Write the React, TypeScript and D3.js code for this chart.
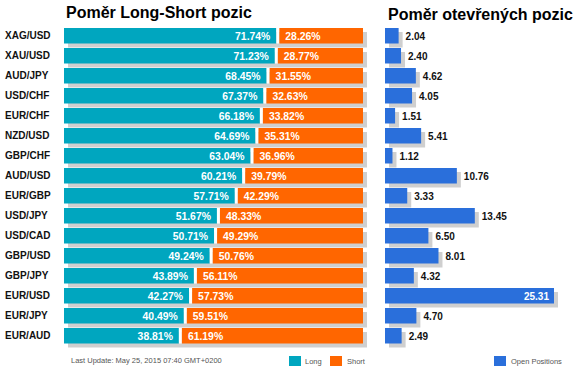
import React from "react";
import * as d3 from "d3";

const categories = ["XAG/USD","XAU/USD","AUD/JPY","USD/CHF","EUR/CHF","NZD/USD","GBP/CHF","AUD/USD","EUR/GBP","USD/JPY","USD/CAD","GBP/USD","GBP/JPY","EUR/USD","EUR/JPY","EUR/AUD"];
const longPct = [71.74,71.23,68.45,67.37,66.18,64.69,63.04,60.21,57.71,51.67,50.71,49.24,43.89,42.27,40.49,38.81];
const shortPct = [28.26,28.77,31.55,32.63,33.82,35.31,36.96,39.79,42.29,48.33,49.29,50.76,56.11,57.73,59.51,61.19];
const openPos = [2.04,2.40,4.62,4.05,1.51,5.41,1.12,10.76,3.33,13.45,6.50,8.01,4.32,25.31,4.70,2.49];

const TEAL = "#00A6BF";
const ORANGE = "#FF6600";
const BLUE = "#2A6FDB";
const SHADOW = "#CFCFCF";
const FONT = "'Liberation Sans', Arial, sans-serif";

export default function App() {
  const W = 584, H = 381;
  const y = d3.scaleBand<string>().domain(categories).range([28, 348]).paddingInner(0.225).paddingOuter(0.1125).align(0);
  const bh = y.bandwidth();
  const left0 = 64;
  const gap = 3;
  const x = d3.scaleLinear().domain([0, 100]).range([0, 296]);
  const right0 = 385;
  const xr = d3.scaleLinear().domain([0, d3.max(openPos) as number]).range([0, 169]);
  const sh = 4;

  return (
    <svg width={W} height={H} style={{ position: "absolute", left: 0, top: 0, fontFamily: FONT }}>
      <rect width={W} height={H} fill="#fff" />
      <text x={66} y={18} fontSize={16} fontWeight="bold" fill="#000">Poměr Long-Short pozic</text>
      <text x={388} y={20} fontSize={16} fontWeight="bold" fill="#000">Poměr otevřených pozic</text>
      {categories.map((c, i) => {
        const y0 = y(c) as number;
        const lw = x(longPct[i]);
        const sx = left0 + lw + gap;
        const sw = x(shortPct[i]);
        const ow = xr(openPos[i]);
        const inside = ow > 150;
        return (
          <g key={c}>
            <text x={5} y={y0 + bh / 2 + 3.5} fontSize={10} fontWeight="bold" fill="#111">{c}</text>
            <rect x={left0 + sh} y={y0 + sh} width={lw + gap + sw} height={bh} fill={SHADOW} />
            <rect x={left0} y={y0} width={lw} height={bh} fill={TEAL} />
            <rect x={left0 + lw} y={y0} width={gap} height={bh} fill="#fff" />
            <rect x={sx} y={y0} width={sw} height={bh} fill={ORANGE} />
            <text x={left0 + lw - 6} y={y0 + bh / 2 + 4} fontSize={10.4} fontWeight="bold" fill="#fff" textAnchor="end">{longPct[i].toFixed(2)}%</text>
            <text x={sx + 6} y={y0 + bh / 2 + 4} fontSize={10.4} fontWeight="bold" fill="#fff">{shortPct[i].toFixed(2)}%</text>
            <rect x={right0 + sh} y={y0 + sh} width={ow} height={bh} fill={SHADOW} />
            <rect x={right0} y={y0} width={ow} height={bh} fill={BLUE} />
            {inside ? (
              <text x={right0 + ow - 5} y={y0 + bh / 2 + 4} fontSize={10} fontWeight="bold" fill="#fff" textAnchor="end">{openPos[i].toFixed(2)}</text>
            ) : (
              <text x={right0 + ow + 7} y={y0 + bh / 2 + 4} fontSize={10} fontWeight="bold" fill="#111">{openPos[i].toFixed(2)}</text>
            )}
          </g>
        );
      })}
      <text x={71} y={363} fontSize={7.5} fill="#555">Last Update: May 25, 2015 07:40 GMT+0200</text>
      <rect x={289} y={356} width={12} height={10} fill={TEAL} />
      <text x={305} y={364} fontSize={7.5} fill="#555">Long</text>
      <rect x={330} y={356} width={12} height={10} fill={ORANGE} />
      <text x={347} y={364} fontSize={7.5} fill="#555">Short</text>
      <rect x={494} y={356} width={12} height={10} fill={BLUE} />
      <text x={511} y={364} fontSize={7.5} fill="#555">Open Positions</text>
    </svg>
  );
}
